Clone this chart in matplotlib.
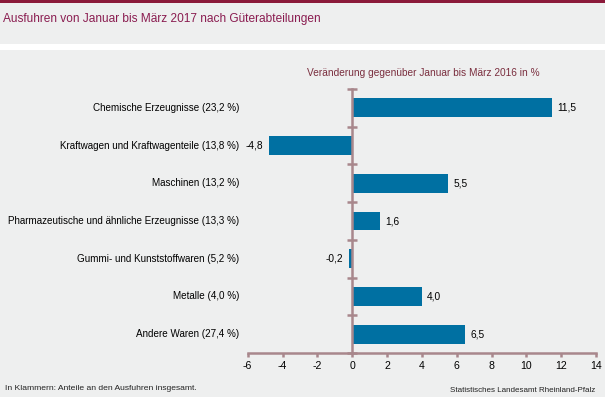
import matplotlib
matplotlib.use("Agg")
import matplotlib.pyplot as plt
import matplotlib.patches as mpatches
import numpy as np

plt.rcParams['font.family'] = ['Liberation Sans', 'DejaVu Sans']

categories = [
    "Chemische Erzeugnisse (23,2 %)",
    "Kraftwagen und Kraftwagenteile (13,8 %)",
    "Maschinen (13,2 %)",
    "Pharmazeutische und ähnliche Erzeugnisse (13,3 %)",
    "Gummi- und Kunststoffwaren (5,2 %)",
    "Metalle (4,0 %)",
    "Andere Waren (27,4 %)",
]
values = [11.5, -4.8, 5.5, 1.6, -0.2, 4.0, 6.5]
xticks = [-6, -4, -2, 0, 2, 4, 6, 8, 10, 12, 14]

bg = "#eeefef"
bar_col = "#0070a2"
axis_col = "#a8878c"
title_col = "#8a1c50"
sub_col = "#7a2e3e"

fig = plt.figure(figsize=(6.05, 3.97), dpi=100, facecolor=bg)

# top dark line and white separator under the title band
fig.add_artist(mpatches.Rectangle((0, 1 - 3/397), 1, 3/397, transform=fig.transFigure,
                                  color="#8b1a3a", lw=0))
fig.add_artist(mpatches.Rectangle((0, 1 - 50/397), 1, 6/397, transform=fig.transFigure,
                                  color="white", lw=0))
fig.text(3/605, 1 - 19/397, "Ausfuhren von Januar bis März 2017 nach Güterabteilungen",
         color=title_col, fontsize=8.6, va="center", ha="left")

ax = fig.add_axes([247.7/605, 44/397, (596 - 247.7)/605, (353 - 89)/397])
ax.set_facecolor(bg)

n = len(categories)
y = np.arange(n)
ax.barh(y, values, height=0.5, color=bar_col, zorder=2)
ax.set_xlim(-6, 14)
ax.set_ylim(n - 0.5, -0.5)

for yi, v in zip(y, values):
    lab = f"{v:.1f}".replace(".", ",")
    if v >= 0:
        ax.text(v + 0.3, yi, lab, va="center", ha="left", fontsize=7.3)
    else:
        ax.text(v - 0.3, yi, lab, va="center", ha="right", fontsize=7.3)

for yi, c in zip(y, categories):
    ax.text(-0.025, yi, c, transform=ax.get_yaxis_transform(), va="center",
            ha="right", fontsize=7.15)

for s in ["top", "right"]:
    ax.spines[s].set_visible(False)
ax.spines["left"].set_position(("data", 0))
ax.spines["left"].set_color(axis_col)
ax.spines["left"].set_linewidth(1.8)
ax.spines["bottom"].set_color(axis_col)
ax.spines["bottom"].set_linewidth(1.8)

ax.set_yticks(np.arange(-0.5, n, 1.0))
ax.set_yticklabels([])
ax.tick_params(axis="y", direction="inout", length=7, width=1.8, color=axis_col)
ax.set_xticks(xticks)
ax.set_xticklabels([str(t) for t in xticks], fontsize=7.6)
ax.tick_params(axis="x", direction="out", length=3, width=1.8, color=axis_col, pad=3)

fig.text(423/605, 1 - 73/397, "Veränderung gegenüber Januar bis März 2016 in %",
         color=sub_col, fontsize=7.25, ha="center", va="center")
fig.text(5/605, 1 - 388/397, "In Klammern: Anteile an den Ausfuhren insgesamt.",
         fontsize=6.1, ha="left", va="center", color="#222222")
fig.text(595/605, 1 - 390/397, "Statistisches Landesamt Rheinland-Pfalz",
         fontsize=5.8, ha="right", va="center", color="#222222")

fig.savefig("out.png", dpi=100, facecolor=bg)
